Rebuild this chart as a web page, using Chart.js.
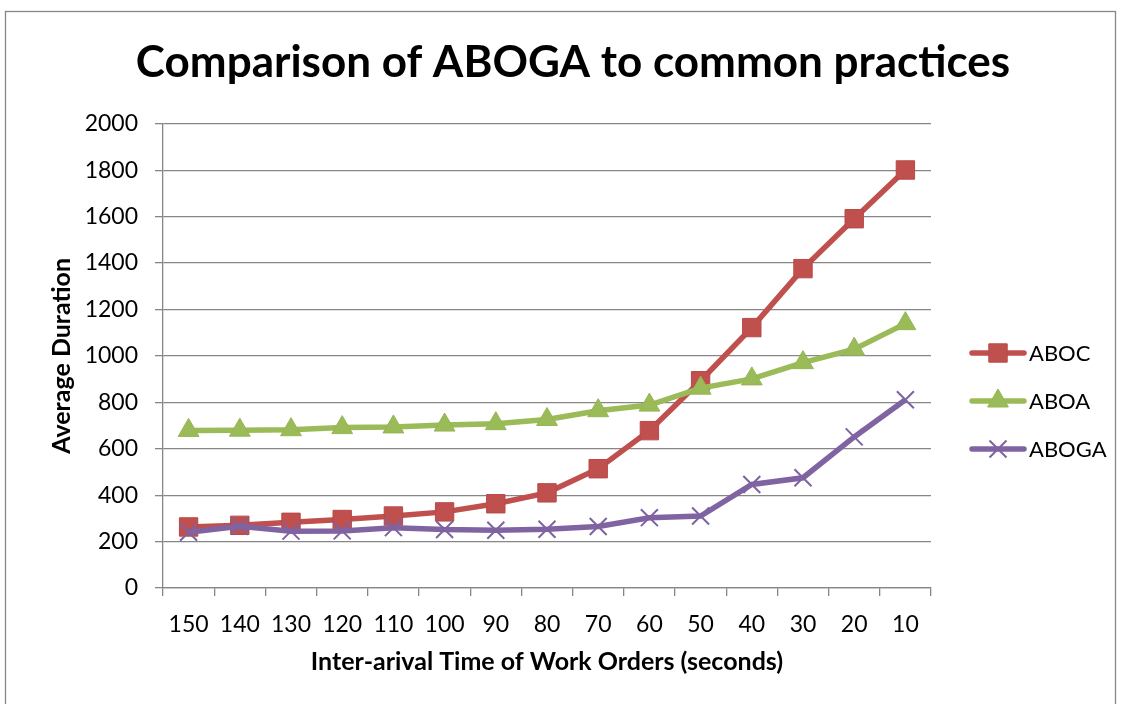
<!DOCTYPE html>
<html>
<head>
<meta charset="utf-8">
<script src="https://cdn.jsdelivr.net/npm/chart.js@4.4.1/dist/chart.umd.min.js"></script>
<style>
  html, body { margin: 0; padding: 0; background: #fff; }
  canvas { display: block; }
</style>
</head>
<body>
<canvas id="c" width="1123" height="704"></canvas>
<script>
// values
var categories = ['150','140','130','120','110','100','90','80','70','60','50','40','30','20','10'];
var seriesNames = ['ABOC', 'ABOA', 'ABOGA'];
var aboc  = [263, 270, 283, 295, 310, 328, 363, 410, 514, 678, 893, 1122, 1376, 1591, 1801];
var aboa  = [679, 680, 682, 691, 694, 702, 708, 726, 764, 788, 861, 901, 971, 1029, 1139];
var aboga = [240, 266, 245, 246, 260, 252, 249, 253, 265, 303, 310, 446, 475, 651, 811];
var yTicks = [0, 200, 400, 600, 800, 1000, 1200, 1400, 1600, 1800, 2000];

var FONT = 'Lato, "Open Sans", sans-serif';
var GRID = '#868686';

// frame round the whole chart, like the excel chart border
var framePlugin = {
  id: 'frame',
  beforeDraw: function(chart) {
    var ctx = chart.ctx;
    ctx.save();
    ctx.fillStyle = '#fff';
    ctx.fillRect(0, 0, chart.width, chart.height);
    ctx.strokeStyle = GRID;
    ctx.lineWidth = 1.3;
    ctx.strokeRect(5.5, 11.5, 1110, 720);
    ctx.restore();
  }
};

// legend with line + marker samples
var sideLegend = {
  id: 'sideLegend',
  afterDraw: function(chart) {
    var ctx = chart.ctx;
    var rows = [353, 401, 449];
    ctx.save();
    chart.data.datasets.forEach(function(ds, i) {
      var y = rows[i];
      ctx.strokeStyle = ds.borderColor;
      ctx.lineWidth = 5.5;
      ctx.lineCap = 'round';
      ctx.beginPath();
      ctx.moveTo(972, y);
      ctx.lineTo(1024, y);
      ctx.stroke();
      ctx.lineCap = 'butt';
      ctx.fillStyle = ds.pointBackgroundColor;
      ctx.strokeStyle = ds.pointBorderColor;
      ctx.lineWidth = ds.pointBorderWidth;
      Chart.helpers.drawPoint(ctx, {pointStyle: ds.pointStyle, radius: ds.pointRadius, rotation: 0, borderWidth: ds.pointBorderWidth}, 998, y);
      ctx.fillStyle = '#000';
      ctx.font = '22px ' + FONT;
      ctx.textAlign = 'left';
      ctx.textBaseline = 'middle';
      ctx.fillText(ds.label, 1029, y + 1);
    });
    ctx.restore();
  }
};

new Chart(document.getElementById('c'), {
  type: 'line',
  data: {
    labels: categories,
    datasets: [
      {
        label: seriesNames[0], data: aboc, order: 3,
        borderColor: '#C0504D', borderWidth: 5.5,
        pointStyle: 'rect', pointRadius: 13, pointBorderWidth: 1,
        pointBackgroundColor: '#C0504D', pointBorderColor: '#B9484A'
      },
      {
        label: seriesNames[1], data: aboa, order: 2,
        borderColor: '#9BBB59', borderWidth: 5.5,
        pointStyle: 'triangle', pointRadius: 12, pointBorderWidth: 1,
        pointBackgroundColor: '#9BBB59', pointBorderColor: '#94B653'
      },
      {
        label: seriesNames[2], data: aboga, order: 1,
        borderColor: '#8064A2', borderWidth: 5.5,
        pointStyle: 'crossRot', pointRadius: 12, pointBorderWidth: 2,
        pointBackgroundColor: '#8064A2', pointBorderColor: '#7E62A1'
      }
    ]
  },
  options: {
    responsive: false,
    animation: false,
    tension: 0,
    layout: { padding: { left: 23, right: 0, top: 0, bottom: 0 } },
    plugins: {
      legend: { display: false },
      tooltip: { enabled: false },
      title: {
        display: true,
        text: 'Comparison of ABOGA to common practices',
        color: '#000',
        font: { family: FONT, size: 44, weight: 'bold' },
        padding: { top: 36, bottom: 35 }
      }
    },
    scales: {
      x: {
        offset: true,
        grid: { display: true, drawOnChartArea: false, drawTicks: true, tickLength: 8, color: GRID, lineWidth: 1.3, offset: true },
        border: { color: GRID, width: 1.3 },
        ticks: { color: '#000', font: { family: FONT, size: 23 }, padding: 15, maxRotation: 0, autoSkip: false },
        title: {
          display: true,
          text: 'Inter-arival Time of Work Orders (seconds)',
          color: '#000',
          font: { family: FONT, size: 25, weight: 'bold' },
          padding: { top: 0, bottom: 27 }
        },
        afterFit: function(s) { s.height = 116; }
      },
      y: {
        min: yTicks[0], max: yTicks[yTicks.length - 1],
        afterBuildTicks: function(s) { s.ticks = yTicks.map(function(v) { return {value: v}; }); },
        ticks: {
          color: '#000', font: { family: FONT, size: 23 }, padding: 17,
          callback: function(v) { return String(v); }
        },
        grid: { color: GRID, lineWidth: 1.3, tickLength: 8 },
        border: { color: GRID, width: 1.3 },
        title: {
          display: true,
          text: 'Average Duration',
          color: '#000',
          font: { family: FONT, size: 25, weight: 'bold' },
          padding: { top: 24, bottom: 0 }
        },
        afterFit: function(s) { s.width = 140; }
      },
      // empty space on the right that holds the legend
      legendSpace: {
        type: 'linear',
        position: 'right',
        grid: { display: false },
        border: { display: false },
        ticks: { display: false },
        afterFit: function(s) { s.width = 192; }
      }
    }
  },
  plugins: [framePlugin, sideLegend]
});
</script>
</body>
</html>
